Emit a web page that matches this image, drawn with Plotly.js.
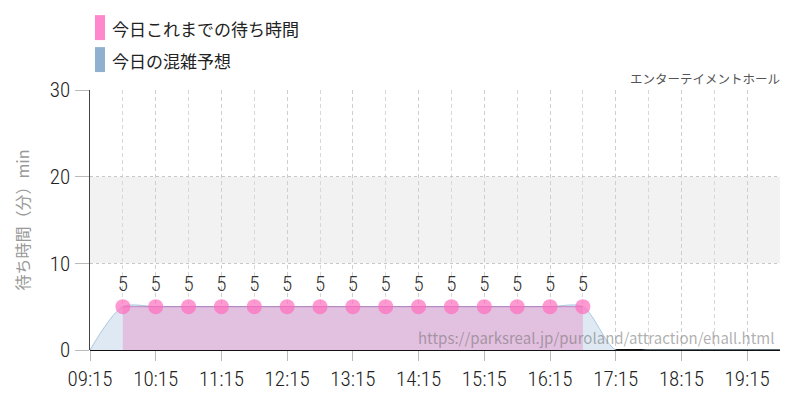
<!DOCTYPE html>
<html>
<head>
<meta charset="utf-8">
<script src="https://cdn.plot.ly/plotly-3.0.1.min.js"></script>
<style>
  html, body { margin: 0; padding: 0; background: #fff; }
  #chart { width: 800px; height: 400px; }
  #chart .xtick text, #chart .ytick text, #chart .textpoint text { font-stretch: condensed; }
</style>
</head>
<body>
<div id="chart"></div>
<script>
var day = '2024-04-01 ';

// 今日これまでの待ち時間 (actual waits so far)
var actualTimes = ['09:45','10:15','10:45','11:15','11:45','12:15','12:45','13:15',
  '13:45','14:15','14:45','15:15','15:45','16:15','16:45'];
var actualWait = [5,5,5,5,5,5,5,5,5,5,5,5,5,5,5];

// 今日の混雑予想 (forecast)
var forecastTimes = ['09:15','09:45','10:15','10:45','11:15','11:45','12:15','12:45',
  '13:15','13:45','14:15','14:45','15:15','15:45','16:15','16:45','17:15','17:45',
  '18:15','18:45','19:15','19:45'];
var forecastWait = [0,5,5,5,5,5,5,5,5,5,5,5,5,5,5,5,0,0,0,0,0,0];

var legendNames = ['今日これまでの待ち時間', '今日の混雑予想'];
var attractionName = 'エンターテイメントホール';
var sourceUrl = 'https://parksreal.jp/puroland/attraction/ehall.html';

var numFont = '"Roboto Condensed", "DejaVu Sans Condensed", "Liberation Sans Narrow", Roboto, sans-serif';
var jpFont = '"Noto Sans CJK JP", sans-serif';

function stamp(list) {
  return list.map(function (t) { return day + t; });
}

var forecast = {
  type: 'scatter',
  x: stamp(forecastTimes),
  y: forecastWait,
  mode: 'lines',
  name: legendNames[1],
  line: { color: '#a9c8df', width: 1, shape: 'spline', smoothing: 0.8 },
  fill: 'tozeroy',
  fillcolor: '#dee9f3',
  hoverinfo: 'skip'
};

var actual = {
  type: 'scatter',
  x: stamp(actualTimes),
  y: actualWait,
  mode: 'lines+markers+text',
  name: legendNames[0],
  text: actualWait.map(String),
  textposition: 'top center',
  textfont: { family: numFont, size: 21, color: '#333', weight: 300 },
  line: { color: 'rgba(170,80,170,0.6)', width: 1 },
  marker: { size: 15, color: 'rgba(255,110,190,0.7)' },
  fill: 'tozeroy',
  fillcolor: 'rgba(230,151,203,0.5)',
  cliponaxis: false
};

var layout = {
  width: 800,
  height: 400,
  margin: { l: 90, r: 20, t: 90, b: 50 },
  paper_bgcolor: '#fff',
  plot_bgcolor: '#fff',
  showlegend: false,
  font: { family: jpFont, color: '#222' },
  xaxis: {
    type: 'date',
    range: [day + '09:15', day + '19:45'],
    tick0: day + '09:15',
    dtick: 3600000,
    tickformat: '%H:%M',
    tickfont: { family: numFont, size: 21, color: '#222', weight: 300 },
    ticks: 'outside',
    ticklen: 10,
    tickcolor: '#bbb',
    showgrid: true,
    gridcolor: '#cfcfcf',
    griddash: '4px,3px',
    minor: { tick0: day + '09:45', dtick: 3600000, showgrid: true, gridcolor: '#d8d8d8', griddash: '4px,3px' },
    showline: false,
    zeroline: false
  },
  yaxis: {
    range: [0, 30],
    dtick: 10,
    tickfont: { family: numFont, size: 21, color: '#222', weight: 300 },
    ticks: 'outside',
    ticklen: 14,
    tickcolor: '#bbb',
    showgrid: true,
    gridcolor: '#c8c8c8',
    griddash: 'dot',
    showline: true,
    linecolor: '#444',
    linewidth: 1.5,
    zeroline: true,
    zerolinecolor: '#111',
    zerolinewidth: 1.5,
    title: { text: '待ち時間（分）min', font: { family: jpFont, size: 16, color: '#999' }, standoff: 16 }
  },
  shapes: [
    { type: 'rect', xref: 'paper', yref: 'y', x0: 0, x1: 1, y0: 10, y1: 20,
      fillcolor: '#f2f2f2', line: { width: 0 }, layer: 'below' },
    { type: 'rect', xref: 'paper', yref: 'paper', x0: 0.0072, x1: 0.0217, y0: 1.192, y1: 1.288,
      fillcolor: '#ff88cc', line: { width: 0 } },
    { type: 'rect', xref: 'paper', yref: 'paper', x0: 0.0072, x1: 0.0217, y0: 1.069, y1: 1.165,
      fillcolor: '#8fb1cf', line: { width: 0 } }
  ],
  annotations: [
    { xref: 'paper', yref: 'paper', x: 0.029, y: 1.238, xanchor: 'left', yanchor: 'middle',
      text: legendNames[0], showarrow: false, font: { family: jpFont, size: 17, color: '#222' } },
    { xref: 'paper', yref: 'paper', x: 0.029, y: 1.115, xanchor: 'left', yanchor: 'middle',
      text: legendNames[1], showarrow: false, font: { family: jpFont, size: 17, color: '#222' } },
    { xref: 'paper', yref: 'paper', x: 1.003, y: 1.046, xanchor: 'right', yanchor: 'middle',
      text: attractionName, showarrow: false, font: { family: jpFont, size: 12.5, color: '#555' } },
    { xref: 'paper', yref: 'paper', x: 0.994, y: 0.05, xanchor: 'right', yanchor: 'middle',
      text: sourceUrl, showarrow: false, font: { family: jpFont, size: 15, color: 'rgba(110,110,110,0.55)' } }
  ]
};

Plotly.newPlot('chart', [forecast, actual], layout, { staticPlot: true });
</script>
</body>
</html>
